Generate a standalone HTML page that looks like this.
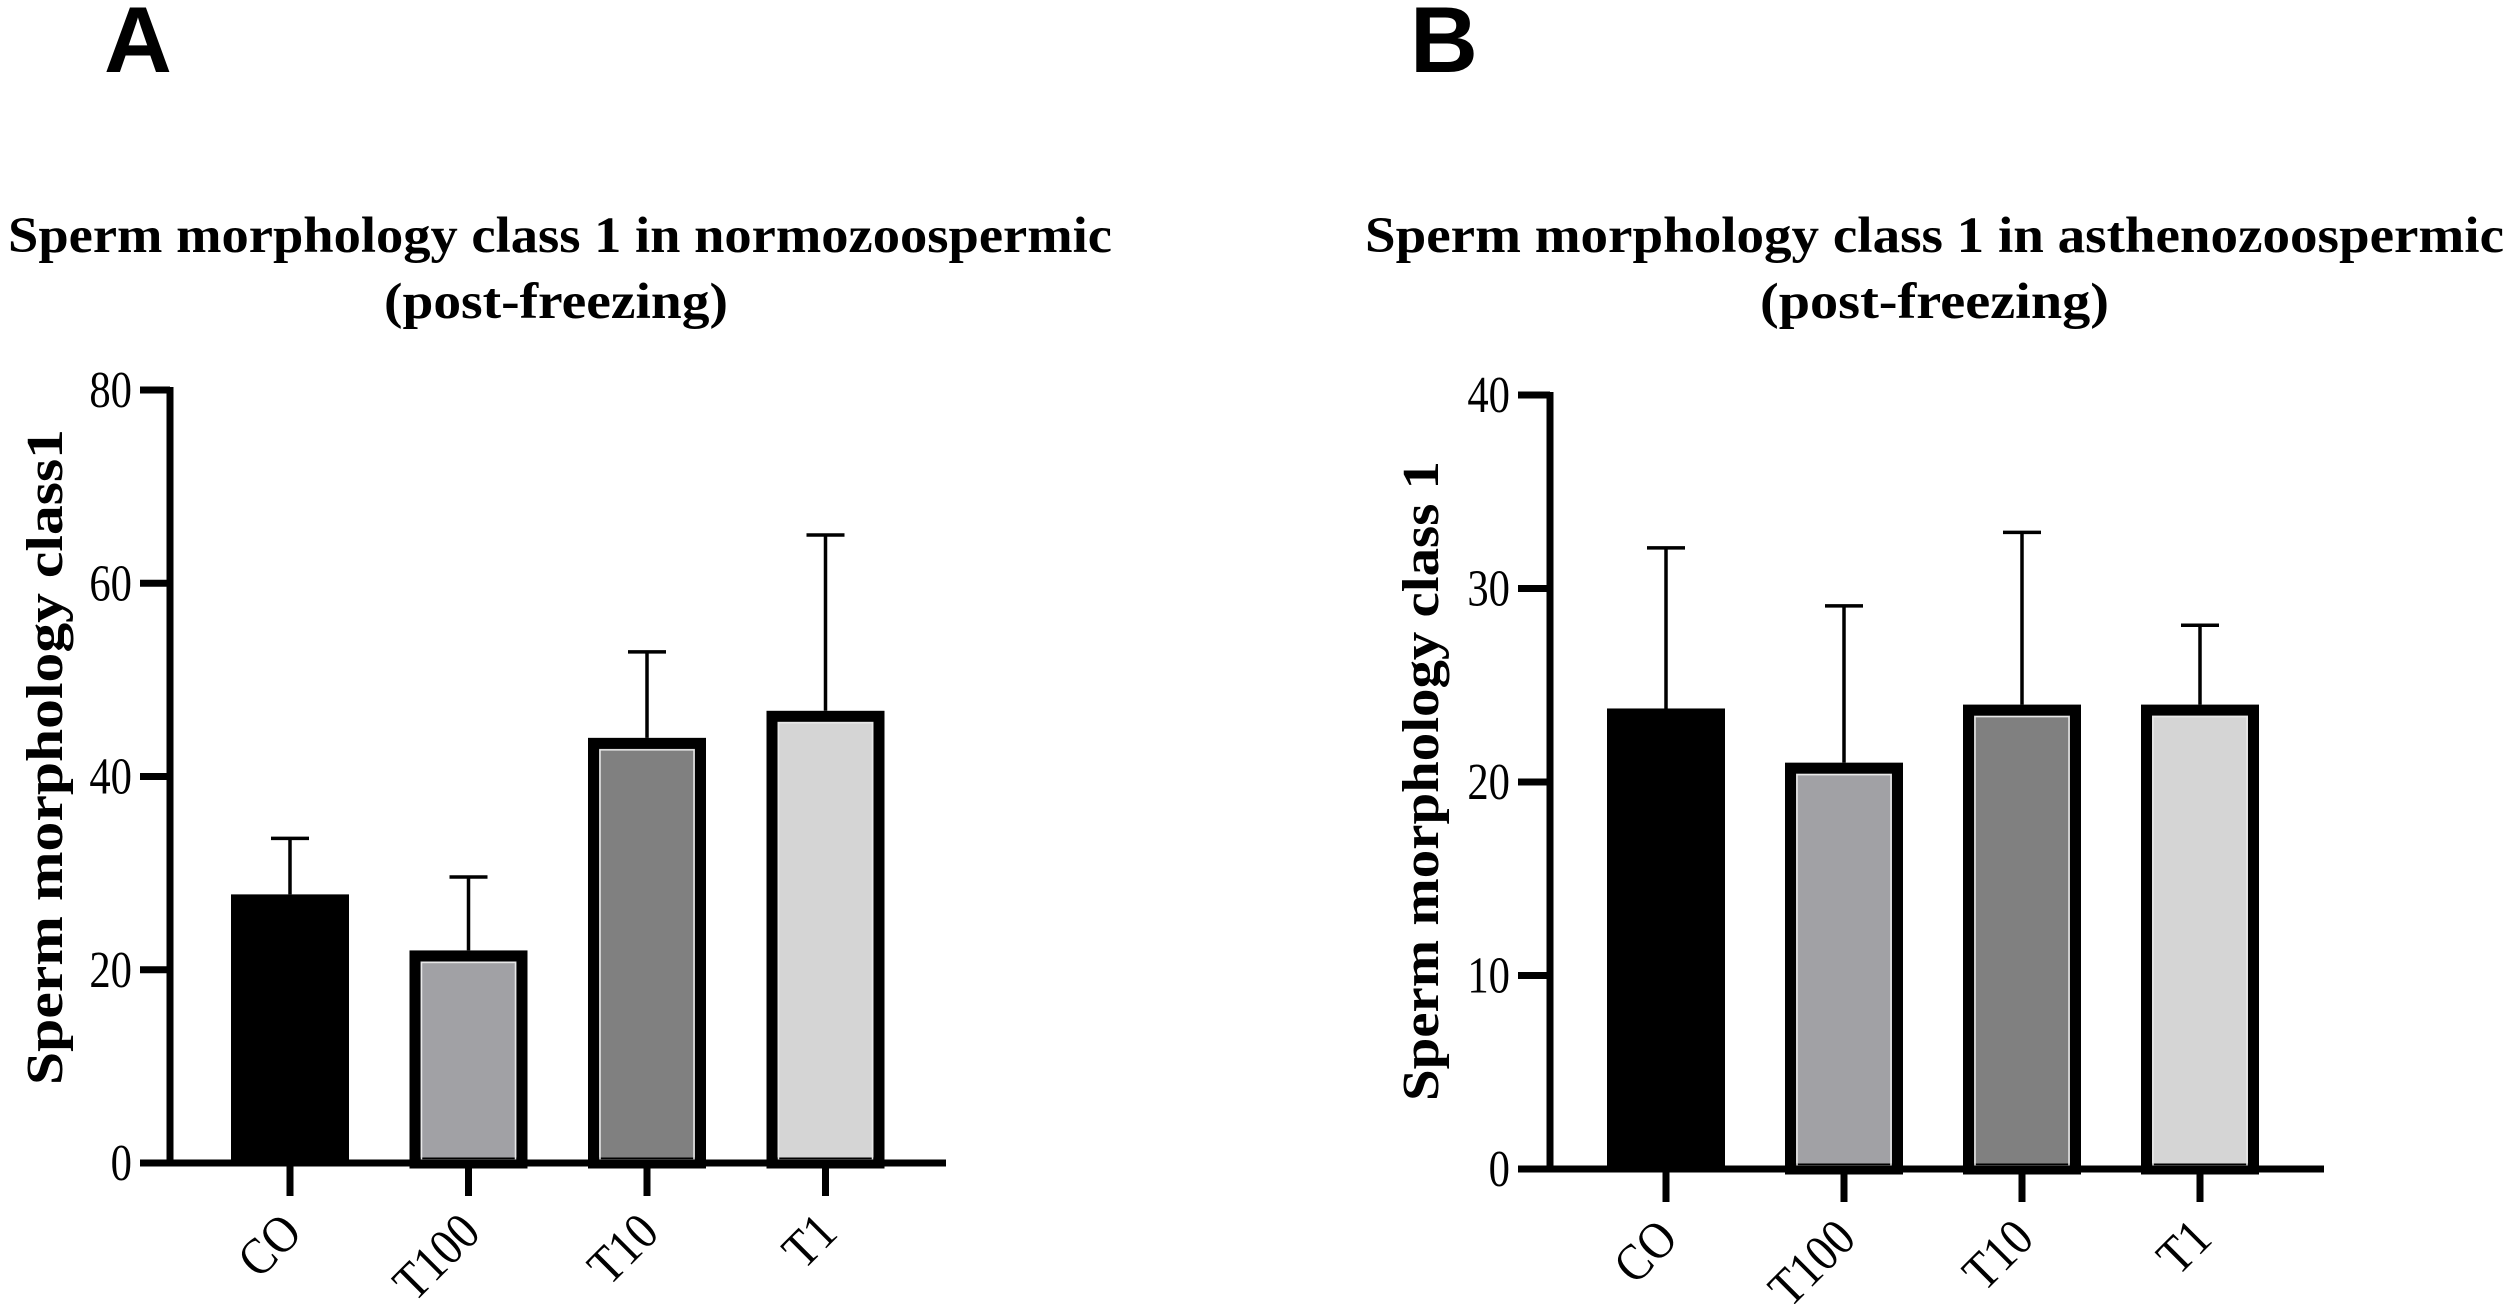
<!DOCTYPE html>
<html><head><meta charset="utf-8"><style>
html,body{margin:0;padding:0;background:#fff;}
svg{display:block;}
text{font-family:"Liberation Serif",serif;fill:#000;}
.panel{font-family:"Liberation Sans",sans-serif;font-weight:bold;font-size:94px;}
.title{font-weight:bold;font-size:51px;}
.ytitle{font-weight:bold;font-size:52px;}
.tick{font-size:52px;}
</style></head><body>
<svg id="fig" width="2508" height="1304" viewBox="0 0 2508 1304">
<text class="panel" x="104" y="72">A</text>
<text class="panel" x="1410" y="72">B</text>
<text class="title" x="8" y="252" textLength="1104" lengthAdjust="spacingAndGlyphs">Sperm morphology class 1 in normozoospermic</text>
<text class="title" x="384" y="318" textLength="344" lengthAdjust="spacingAndGlyphs">(post-freezing)</text>
<text class="title" x="1365" y="252" textLength="1139" lengthAdjust="spacingAndGlyphs">Sperm morphology class 1 in asthenozoospermic</text>
<text class="title" x="1760" y="318" textLength="349" lengthAdjust="spacingAndGlyphs">(post-freezing)</text>
<text class="ytitle" transform="translate(62,1085) rotate(-90)" textLength="656" lengthAdjust="spacingAndGlyphs">Sperm morphology class1</text>
<text class="ytitle" transform="translate(1438,1101) rotate(-90)" textLength="640" lengthAdjust="spacingAndGlyphs">Sperm morphology class 1</text>
<g id="chartA"></g>
<g id="chartB"></g>
</svg>
<script>
const categories = ["CO","T100","T10","T1"];
const fills = ["#000000","#a1a1a5","#808080","#d5d5d5"];
const valuesA = [27.8, 22.0, 44.0, 46.8];
const errorsA = [33.6, 29.6, 52.9, 65.0];
const ticksA = [0, 20, 40, 60, 80];
const valuesB = [23.8, 21.0, 24.0, 24.0];
const errorsB = [32.1, 29.1, 32.9, 28.1];
const ticksB = [0, 10, 20, 30, 40];

const NS = "http://www.w3.org/2000/svg";
function mk(parent, tag, attrs) {
  const e = document.createElementNS(NS, tag);
  for (const k in attrs) e.setAttribute(k, attrs[k]);
  parent.appendChild(e);
  return e;
}
function drawChart(g, cfg, values, errors, ticks) {
  const yMax = ticks[ticks.length - 1];
  const y = v => cfg.y0 - (v / yMax) * (cfg.y0 - cfg.yTop);
  const x = i => cfg.xFirst + i * cfg.step;
  const bw = 118, ob = 11;
  values.forEach((v, i) => {
    const cx = x(i), top = y(v);
    const ln = mk(g, "line", {x1: cx, x2: cx, y1: y(errors[i]), y2: top, stroke: "#000", "stroke-width": 3.5});
    
    
    const cap = mk(g, "line", {x1: cx - 19, x2: cx + 19, y1: y(errors[i]), y2: y(errors[i]), stroke: "#000", "stroke-width": 3.5});
    
    
    let r;
    if (i === 0) {
      r = mk(g, "rect", {x: cx - bw / 2, y: top, width: bw, height: cfg.y0 - top, fill: "#000"});
    } else {
      r = mk(g, "rect", {x: cx - bw / 2 + ob / 2, y: top + ob / 2, width: bw - ob, height: cfg.y0 - top - ob / 2, fill: fills[i], stroke: "#000", "stroke-width": ob});
      const inner = mk(g, "rect", {x: cx - bw / 2 + ob + 1, y: top + ob + 1, width: bw - 2 * ob - 2, height: cfg.y0 - top - ob - 4, fill: "none", stroke: "#e8e8e8", "stroke-width": 1.5});
      
      
    }
    
    
  });
  const ya = mk(g, "line", {x1: cfg.xAxis, x2: cfg.xAxis, y1: cfg.yTop - 3, y2: cfg.y0, stroke: "#000", "stroke-width": 7});
  
  
  const xa = mk(g, "line", {x1: cfg.xStart, x2: cfg.xEnd, y1: cfg.y0, y2: cfg.y0, stroke: "#000", "stroke-width": 7});
  
  
  ticks.forEach(t => {
    const tm = mk(g, "line", {x1: cfg.xStart, x2: cfg.xAxis, y1: y(t), y2: y(t), stroke: "#000", "stroke-width": 7});
    
    
    const tl = mk(g, "text", {x: 0, y: 0, "text-anchor": "end", class: "tick", transform: "translate(" + (cfg.xStart - 8) + "," + (y(t) + 17) + ") scale(0.82,1)"});
    tl.textContent = t;
    
    
  });
  categories.forEach((c, i) => {
    const cx = x(i);
    const tm = mk(g, "line", {x1: cx, x2: cx, y1: cfg.y0, y2: cfg.y0 + 33, stroke: "#000", "stroke-width": 7});
    
    
    const tl = mk(g, "text", {x: 0, y: 0, "text-anchor": "end", class: "tick", transform: "translate(" + (cx + 14) + "," + (cfg.y0 + 72) + ") rotate(-45) scale(0.88,1)"});
    tl.textContent = c;
    
    
  });
}
drawChart(document.getElementById("chartA"), {xAxis: 170, xStart: 140, xEnd: 946, y0: 1163, yTop: 390, xFirst: 290, step: 178.5}, valuesA, errorsA, ticksA);
drawChart(document.getElementById("chartB"), {xAxis: 1550, xStart: 1518, xEnd: 2324, y0: 1169, yTop: 395, xFirst: 1666, step: 178}, valuesB, errorsB, ticksB);
</script>
</body></html>
